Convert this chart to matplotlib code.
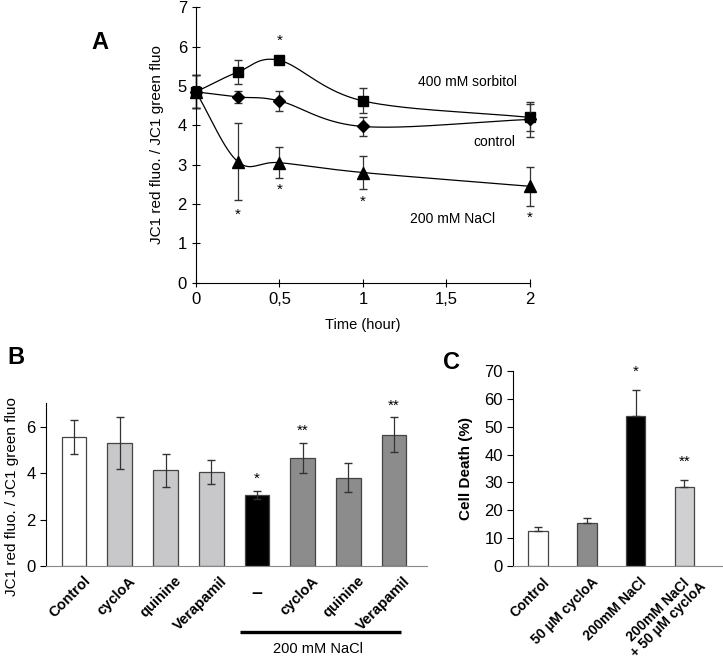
import numpy as np
import matplotlib
matplotlib.use('Agg')
from matplotlib import pyplot as plt

plt.rcParams['font.family'] = ['Liberation Sans', 'DejaVu Sans']

# ---- panel A data ----
time_h = [0, 0.25, 0.5, 1, 2]
sorbitol = [4.85, 5.35, 5.65, 4.62, 4.2]
sorbitol_err = [0.42, 0.3, 0.1, 0.32, 0.35]
control = [4.85, 4.72, 4.62, 3.97, 4.15]
control_err = [0.42, 0.15, 0.25, 0.25, 0.45]
nacl = [4.85, 3.08, 3.05, 2.8, 2.45]
nacl_err = [0.42, 0.97, 0.4, 0.43, 0.5]

# ---- panel B data ----
b_labels = ['Control', 'cycloA', 'quinine', 'Verapamil', '-', 'cycloA', 'quinine', 'Verapamil']
b_values = [5.55, 5.3, 4.12, 4.05, 3.07, 4.65, 3.8, 5.65]
b_err = [0.72, 1.12, 0.7, 0.5, 0.18, 0.65, 0.62, 0.75]
b_stars = ['', '', '', '', '*', '**', '', '**']
b_colors = ['white', '#c8c8ca', '#c8c8ca', '#c8c8ca', 'black', '#8c8c8c', '#8c8c8c', '#8c8c8c']

# ---- panel C data ----
c_labels = ['Control', '50 µM cycloA', '200mM NaCl', '200mM NaCl\n+ 50 µM cycloA']
c_values = [12.7, 15.4, 54.0, 28.2]
c_err = [1.5, 1.8, 9.3, 2.8]
c_stars = ['', '', '*', '**']
c_colors = ['white', '#8c8c8c', 'black', '#d0d0d2']


def smooth(x, y, n=40):
    # catmull-rom like the excel "smoothed line"
    x = np.asarray(x, float); y = np.asarray(y, float)
    px = np.concatenate([[2*x[0]-x[1]], x, [2*x[-1]-x[-2]]])
    py = np.concatenate([[2*y[0]-y[1]], y, [2*y[-1]-y[-2]]])
    xs, ys = [], []
    t = np.linspace(0, 1, n)
    for i in range(1, len(px)-2):
        for p, out in ((px, xs), (py, ys)):
            p0, p1, p2, p3 = p[i-1], p[i], p[i+1], p[i+2]
            out.extend(0.5*((2*p1) + (-p0+p2)*t + (2*p0-5*p1+4*p2-p3)*t**2
                            + (-p0+3*p1-3*p2+p3)*t**3))
    return xs, ys


fig = plt.figure(figsize=(7.23, 6.59), dpi=100)

# ================= A =================
axA = fig.add_axes([0.271, 0.571, 0.462, 0.418])
for vals, errs, mk, ms in ((sorbitol, sorbitol_err, 's', 7.5),
                           (control, control_err, 'D', 6.5),
                           (nacl, nacl_err, '^', 8)):
    sx, sy = smooth(time_h, vals)
    axA.plot(sx, sy, color='black', lw=0.9, clip_on=False)
    axA.errorbar(time_h, vals, yerr=errs, fmt='none', ecolor='#333333',
                 elinewidth=0.9, capsize=3, clip_on=False)
    axA.plot(time_h, vals, ls='none', marker=mk, ms=ms, color='black', clip_on=False)

axA.set_xlim(0, 2)
axA.set_ylim(0, 7)
axA.set_xticks([0, 0.5, 1, 1.5, 2])
axA.set_xticklabels(['0', '0,5', '1', '1,5', '2'])
axA.set_yticks(range(8))
axA.tick_params(direction='inout', length=6, width=0.8, labelsize=12)
for s in ('top', 'right'):
    axA.spines[s].set_visible(False)
axA.set_xlabel('Time (hour)', fontsize=10.5, labelpad=8)
axA.set_ylabel('JC1 red fluo. / JC1 green fluo', fontsize=11, labelpad=10)
axA.text(1.33, 5.1, '400 mM sorbitol', fontsize=10, va='center')
axA.text(1.66, 3.58, 'control', fontsize=10, va='center')
axA.text(1.28, 1.62, '200 mM NaCl', fontsize=10, va='center')
for xs_, ys_ in ((0.25, 1.72), (0.5, 6.15), (0.5, 2.36), (1, 2.06), (2, 1.65)):
    axA.text(xs_, ys_, '*', fontsize=11, ha='center', va='center')
fig.text(0.138, 0.936, 'A', fontsize=17, fontweight='bold', ha='center', va='center')

# ================= B =================
axB = fig.add_axes([0.064, 0.141, 0.527, 0.247])
xb = np.arange(len(b_values))
axB.bar(xb, b_values, width=0.54, color=b_colors, edgecolor='#444444', lw=0.9)
axB.errorbar(xb, b_values, yerr=b_err, fmt='none', ecolor='#333333',
             elinewidth=0.9, capsize=3)
for i in range(len(xb)):
    if b_stars[i]:
        axB.text(xb[i], b_values[i] + b_err[i] + 0.5, b_stars[i], fontsize=11,
                 ha='center', va='center')
axB.set_xlim(-0.61, 7.73)
axB.set_ylim(0, 7)
axB.set_yticks([0, 2, 4, 6])
axB.set_xticks(xb)
axB.set_xticklabels([])
axB.tick_params(axis='x', length=0)
axB.tick_params(axis='y', labelsize=12, length=4)
for s in ('top', 'right'):
    axB.spines[s].set_visible(False)
axB.spines['bottom'].set_color('#888888')
for i, lab in enumerate(b_labels):
    if lab == '-':
        axB.text(xb[i], -1.2, '\u2013', fontsize=14, fontweight='bold', ha='center',
                 va='center')
    else:
        axB.annotate(lab, (xb[i], 0), xytext=(6.5, -5.5), textcoords='offset points',
                     rotation=45, rotation_mode='anchor', ha='right', va='top',
                     fontsize=10.5, fontweight='bold', annotation_clip=False)
axB.set_ylabel('JC1 red fluo. / JC1 green fluo', fontsize=11)
axB.yaxis.set_label_coords(-0.072, 0.43)
axB.plot([3.63, 7.15], [-2.83, -2.83], color='black', lw=2.4, clip_on=False,
         solid_capstyle='butt')
axB.text(5.33, -3.56, '200 mM NaCl', fontsize=10.5, ha='center', va='center')
fig.text(0.022, 0.457, 'B', fontsize=17, fontweight='bold', ha='center', va='center')

# ================= C =================
axC = fig.add_axes([0.71, 0.141, 0.289, 0.296])
xc = np.arange(len(c_values))
axC.bar(xc, c_values, width=0.4, color=c_colors, edgecolor='#444444', lw=0.9)
axC.errorbar(xc, c_values, yerr=[[0]*len(c_err), c_err], fmt='none',
             ecolor='#333333', elinewidth=0.9, capsize=3)
for i in range(len(xc)):
    if c_stars[i]:
        axC.text(xc[i], c_values[i] + c_err[i] + 6.5, c_stars[i], fontsize=11,
                 ha='center', va='center')
axC.set_xlim(-0.51, 3.78)
axC.set_ylim(0, 70)
axC.set_yticks(range(0, 80, 10))
axC.set_xticks(xc)
axC.set_xticklabels([])
axC.tick_params(axis='x', length=0)
axC.tick_params(axis='y', labelsize=12, length=4)
for s in ('top', 'right'):
    axC.spines[s].set_visible(False)
axC.spines['bottom'].set_color('#888888')
for i, lab in enumerate(c_labels):
    off = (3.5, -2.5) if '\n' in lab else (3, -6.5)
    axC.annotate(lab, (xc[i], 0), xytext=off, textcoords='offset points',
                 rotation=45, rotation_mode='anchor', ha='right', va='top',
                 fontsize=10, fontweight='bold', annotation_clip=False,
                 multialignment='center', linespacing=0.95)
axC.set_ylabel('Cell Death (%)', fontsize=11, fontweight='bold', labelpad=8)
fig.text(0.625, 0.45, 'C', fontsize=17, fontweight='bold', ha='center', va='center')

fig.savefig('out.png', dpi=100)
